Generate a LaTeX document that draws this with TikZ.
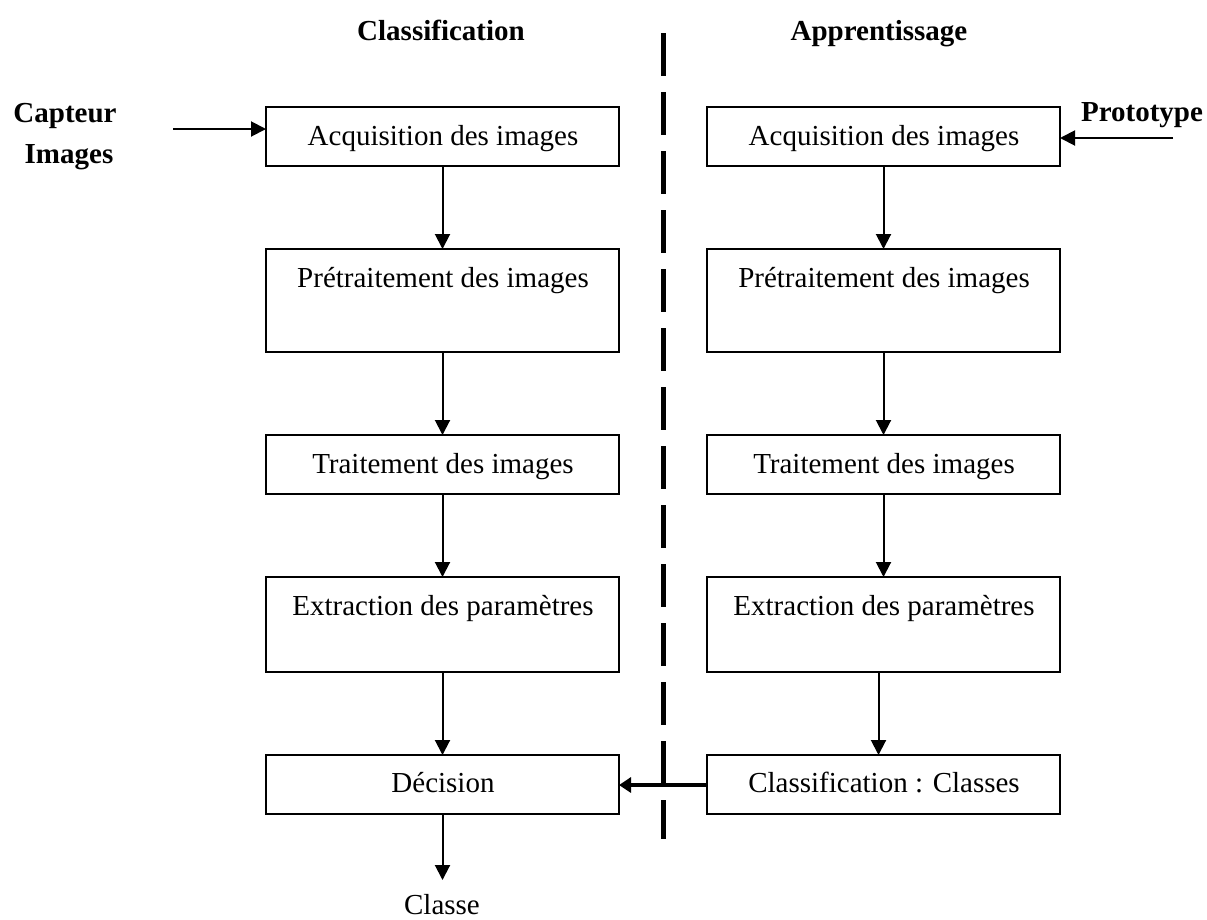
\documentclass[tikz,border=0pt]{standalone}
\usepackage{fontspec}
\setmainfont{Liberation Serif}
\usetikzlibrary{arrows.meta}
\begin{document}
\begin{tikzpicture}[x=1pt,y=-1pt,
  every node/.style={font=\fontsize{29}{34}\selectfont, inner sep=0pt, outer sep=0pt},
  box/.style={draw, line width=2pt, rectangle, anchor=north west, minimum width=353pt},
  txt/.style={anchor=base},
  ttl/.style={anchor=base, font=\fontsize{29}{34}\selectfont\bfseries},
  arr/.style={line width=2pt, -{Triangle[length=15pt,width=15pt]}},
  thickarr/.style={line width=4pt, -{Triangle[length=12pt,width=15pt]}},
  sep/.style={line width=5pt, dash pattern=on 43pt off 16pt}
]
\useasboundingbox (0,0) rectangle (1207,919);

% titles
\node[ttl] (tc) at (441,40) {Classification};
\node[ttl] (ta) at (879,40) {Apprentissage};
\node[ttl] (cap) at (65,122) {Capteur};
\node[ttl] (img) at (69,163) {Images};
\node[ttl] (pro) at (1142,121) {Prototype};

% separator
\coordinate (s1) at (663,33);
\coordinate (s2) at (663,839);
\draw[sep] (s1) -- (s2);

% left column
\node[box, minimum height=59pt] (l1) at (266,107) {};
\node[box, minimum height=103pt] (l2) at (266,249) {};
\node[box, minimum height=59pt] (l3) at (266,435) {};
\node[box, minimum height=95pt] (l4) at (266,577) {};
\node[box, minimum height=59pt] (l5) at (266,755) {};

\node[txt] (l1t) at (443,145) {Acquisition des images};
\node[txt] (l2t) at (443,287) {Prétraitement des images};
\node[txt] (l3t) at (443,473) {Traitement des images};
\node[txt] (l4t) at (443,615) {Extraction des paramètres};
\node[txt] (l5t) at (443,792) {Décision};
\node[txt] (cls) at (442,914) {Classe};

% right column
\node[box, minimum height=59pt] (r1) at (707,107) {};
\node[box, minimum height=103pt] (r2) at (707,249) {};
\node[box, minimum height=59pt] (r3) at (707,435) {};
\node[box, minimum height=95pt] (r4) at (707,577) {};
\node[box, minimum height=59pt] (r5) at (707,755) {};

\node[txt] (r1t) at (884,145) {Acquisition des images};
\node[txt] (r2t) at (884,287) {Prétraitement des images};
\node[txt] (r3t) at (884,473) {Traitement des images};
\node[txt] (r4t) at (884,615) {Extraction des paramètres};
\node[txt] (r5t) at (884,792) {Classification : Classes};

% vertical arrows
\draw[arr] (l1.south) -- (l2.north);
\draw[arr] (l2.south) -- (l3.north);
\draw[arr] (l3.south) -- (l4.north);
\draw[arr] (l4.south) -- (l5.north);
\coordinate (clsend) at (442.5,880);
\draw[arr] (l5.south) -- (clsend);

\draw[arr] (r1.south) -- (r2.north);
\draw[arr] (r2.south) -- (r3.north);
\draw[arr] (r3.south) -- (r4.north);
\draw[arr] ([xshift=-5pt]r4.south) -- ([xshift=-5pt]r5.north);

% horizontal arrows
\coordinate (capstart) at (173,129);
\draw[arr] (capstart) -- (capstart -| l1.west);
\coordinate (prostart) at (1173,138);
\draw[arr] (prostart) -- (prostart -| r1.east);
\draw[thickarr] (r5.west |- 0,785) -- (l5.east |- 0,785);
\end{tikzpicture}
\end{document}
